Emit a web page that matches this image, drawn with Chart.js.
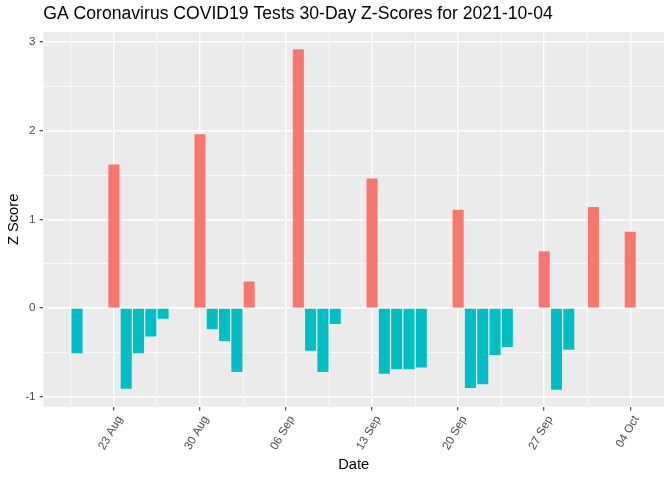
<!DOCTYPE html>
<html>
<head>
<meta charset="utf-8">
<script src="https://cdn.jsdelivr.net/npm/chart.js@4"></script>
<style>
  html, body { margin: 0; padding: 0; background: #ffffff; }
  #wrap { width: 672px; height: 480px; }
</style>
</head>
<body>
<div id="wrap"><canvas id="zChart" width="672" height="480"></canvas></div>
<script>
// Daily test z-scores
const dates = [
  '2021-08-20', '2021-08-23', '2021-08-24', '2021-08-25', '2021-08-26', '2021-08-27',
  '2021-08-30', '2021-08-31', '2021-09-01', '2021-09-02', '2021-09-03',
  '2021-09-07', '2021-09-08', '2021-09-09', '2021-09-10',
  '2021-09-13', '2021-09-14', '2021-09-15', '2021-09-16', '2021-09-17',
  '2021-09-20', '2021-09-21', '2021-09-22', '2021-09-23', '2021-09-24',
  '2021-09-27', '2021-09-28', '2021-09-29', '2021-10-01', '2021-10-04'
];
const zScores = [
  -0.51, 1.62, -0.91, -0.51, -0.32, -0.12,
  1.96, -0.24, -0.37, -0.72, 0.30,
  2.92, -0.48, -0.72, -0.18,
  1.46, -0.74, -0.69, -0.69, -0.67,
  1.11, -0.90, -0.86, -0.53, -0.44,
  0.64, -0.92, -0.47, 1.14, 0.86
];

// Axis breaks
const xTickDates = ['2021-08-23', '2021-08-30', '2021-09-06', '2021-09-13', '2021-09-20', '2021-09-27', '2021-10-04'];
const xTickLabels = ['23 Aug', '30 Aug', '06 Sep', '13 Sep', '20 Sep', '27 Sep', '04 Oct'];
const yTicks = [-1, 0, 1, 2, 3];

const POS_COLOR = '#F8766D';
const NEG_COLOR = '#00BFC4';

function toDay(d) {
  return Date.parse(d + 'T00:00:00Z') / 86400000;
}

const dayValues = dates.map(toDay);
const majorDays = xTickDates.map(toDay);

// ggplot style expansion: bars are 0.9 day wide, then 5% on each side
const halfBar = 0.45;
const xLo = Math.min(...dayValues) - halfBar;
const xHi = Math.max(...dayValues) + halfBar;
const xPad = (xHi - xLo) * 0.05;
const xMin = xLo - xPad;
const xMax = xHi + xPad;

const yLo = Math.min(0, ...zScores);
const yHi = Math.max(0, ...zScores);
const yPad = (yHi - yLo) * 0.05;
const yMin = yLo - yPad;
const yMax = yHi + yPad;

// minor breaks sit halfway between major ones
function withMinor(majors, lo, hi) {
  const step = majors[1] - majors[0];
  const out = [];
  const start = majors[0] - step / 2;
  for (let v = start; v <= majors[majors.length - 1] + step; v += step / 2) {
    if (v >= lo && v <= hi) out.push(v);
  }
  return out;
}

function isMajor(list, v) {
  return list.some(m => Math.abs(m - v) < 1e-6);
}

function tickIsMajor(list, ctx) {
  return !!(ctx && ctx.tick && isMajor(list, ctx.tick.value));
}

const points = dayValues.map((d, i) => ({ x: d, y: zScores[i] }));

const panelBg = {
  id: 'panelBg',
  beforeDraw(chart) {
    const { ctx, chartArea } = chart;
    ctx.save();
    ctx.fillStyle = '#EBEBEB';
    ctx.fillRect(chartArea.left, chartArea.top, chartArea.right - chartArea.left, chartArea.bottom - chartArea.top);
    ctx.restore();
  }
};

const tickFont = { family: 'Liberation Sans, Arial, sans-serif', size: 11.7 };
const titleFont = { family: 'Liberation Sans, Arial, sans-serif', size: 14.7 };

new Chart(document.getElementById('zChart'), {
  type: 'bar',
  data: {
    datasets: [{
      data: points,
      backgroundColor: ctx => (ctx.raw && ctx.raw.y >= 0 ? POS_COLOR : NEG_COLOR),
      borderWidth: 0,
      barPercentage: 0.9,
      categoryPercentage: 1.0
    }]
  },
  options: {
    responsive: false,
    animation: false,
    layout: { padding: { left: 0, right: 8, top: 0, bottom: 0 } },
    plugins: {
      legend: { display: false },
      tooltip: { enabled: false },
      title: {
        display: true,
        text: 'GA Coronavirus COVID19 Tests 30-Day Z-Scores for 2021-10-04',
        align: 'start',
        fullSize: false,
        color: '#000000',
        font: { family: 'Liberation Sans, Arial, sans-serif', size: 17.6, weight: 'normal' },
        padding: { top: 4, bottom: 7 }
      }
    },
    scales: {
      x: {
        type: 'linear',
        min: xMin,
        max: xMax,
        offset: false,
        afterBuildTicks: scale => {
          scale.ticks = withMinor(majorDays, xMin, xMax).map(v => ({ value: v }));
        },
        afterFit: scale => { scale.height = 73.3; },
        border: { display: false },
        grid: {
          offset: false,
          color: '#FFFFFF',
          lineWidth: ctx => (tickIsMajor(majorDays, ctx) ? 1.4 : 0.7),
          tickLength: 3.7,
          tickWidth: 1.1,
          tickColor: ctx => (tickIsMajor(majorDays, ctx) ? '#333333' : 'rgba(0,0,0,0)')
        },
        ticks: {
          autoSkip: false,
          minRotation: 60,
          maxRotation: 60,
          padding: 3,
          labelOffset: 6,
          color: '#4D4D4D',
          font: tickFont,
          callback: value => {
            const i = majorDays.findIndex(m => Math.abs(m - value) < 1e-6);
            return i >= 0 ? xTickLabels[i] : '';
          }
        },
        title: {
          display: true,
          text: 'Date',
          color: '#000000',
          font: titleFont,
          padding: { top: 0, bottom: 6 }
        }
      },
      y: {
        min: yMin,
        max: yMax,
        afterBuildTicks: scale => {
          scale.ticks = withMinor(yTicks, yMin, yMax).map(v => ({ value: v }));
        },
        afterFit: scale => { scale.width = 43.3; },
        border: { display: false },
        grid: {
          color: '#FFFFFF',
          lineWidth: ctx => (tickIsMajor(yTicks, ctx) ? 1.4 : 0.7),
          tickLength: 3.7,
          tickWidth: 1.1,
          tickColor: ctx => (tickIsMajor(yTicks, ctx) ? '#333333' : 'rgba(0,0,0,0)')
        },
        ticks: {
          autoSkip: false,
          padding: 4,
          color: '#4D4D4D',
          font: tickFont,
          callback: value => (isMajor(yTicks, value) ? String(Math.round(value)) : '')
        },
        title: {
          display: true,
          text: 'Z Score',
          color: '#000000',
          font: titleFont,
          padding: { top: 5, bottom: 0 }
        }
      }
    }
  },
  plugins: [panelBg]
});
</script>
</body>
</html>
